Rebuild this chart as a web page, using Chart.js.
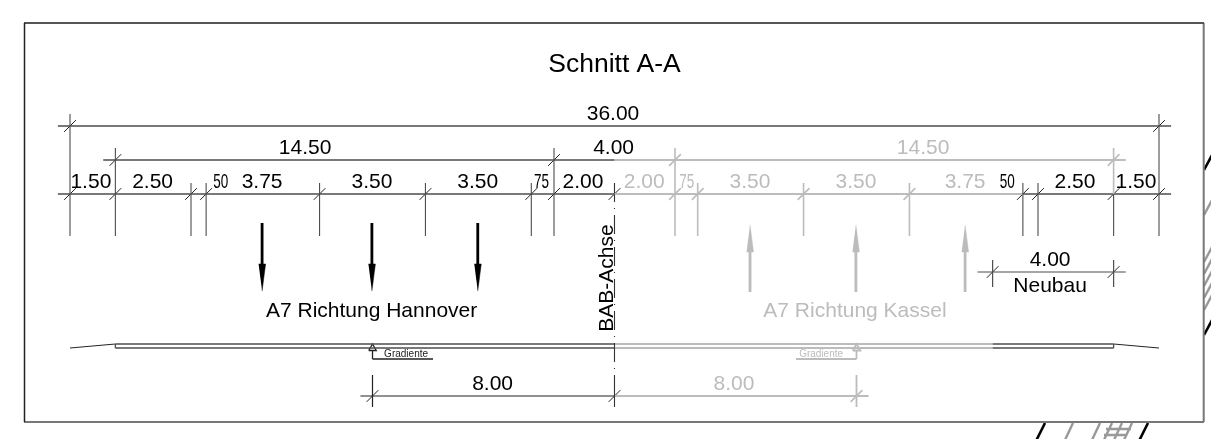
<!DOCTYPE html>
<html><head><meta charset="utf-8">
<style>html,body{margin:0;padding:0;background:#fff}canvas{display:block}</style>
<script src="https://cdn.jsdelivr.net/npm/chart.js@4/dist/chart.umd.min.js"></script>
</head><body><canvas id="c" width="1211" height="439"></canvas>
<script>
// stations in metres from the left edge of the 36.00 m section
const stations = [0,1.5,4,4.5,8.25,11.75,15.25,16,18,20,20.75,24.25,27.75,31.5,32,34.5,36];
const darkFine = [0,1.5,4,4.5,8.25,11.75,15.25,16,18,31.5,32,34.5,36];
const greyFine = [20,20.75,24.25,27.75];
const fineLabels = ["1.50","2.50","50","3.75","3.50","3.50","75","2.00","2.00","75","3.50","3.50","3.75","50","2.50","1.50"];
const fineLabelAt = [0.69,2.73,4.98,6.35,9.98,13.48,15.59,16.96,18.98,20.39,22.48,25.98,29.59,30.98,33.22,35.24];
const fineLabelGrey = [8,9,10,11,12];
const narrowLabels = ["50","75"];
const axisStation = 18;
const lanesHannover = [6.35,9.98,13.48];
const lanesKassel = [22.48,25.98,29.59];
const gradienteStations = [10,26];
const neubauStations = [30.5,34.5];

const W = 1211, H = 439, X0 = 70, PXM = 30.25;
const ink = '#4d4d4d', grey = '#bcbcbc';
const rowTotal = 126, rowMid = 160, rowFine = 194, rowBase = 236, rowTopFine = 183, rowTopMid = 148, rowTopTotal = 114;
const rowLow = 396, lowTop = 375, lowBot = 407, rowNeu = 272, neuTop = 260, neuBot = 287;
const roadTop = 344, roadBot = 348;
const over = 0.4;
const px = p => (p - X0) / PXM;

const P = (x,y) => ({x,y});
const GAP = {x:null,y:null};
const segs = list => list.flatMap(s => [P(s[0],s[1]),P(s[2],s[3]),GAP]);
const vert = (xs,a,b) => xs.map(x => [x,a,x,b]);
const line = (data,color,width,extra={}) => ({type:'scatter',showLine:true,data,borderColor:color,borderWidth:width,pointRadius:0,pointHoverRadius:0,...extra});
const ticks = (data,color,w=1) => ({type:'scatter',showLine:false,data,pointStyle:'line',rotation:-45,radius:8.3,pointBorderColor:color,borderColor:color,pointBorderWidth:w,borderWidth:w,pointHoverRadius:8.3});
const poly = (pts,fillC,strokeC,w) => ({type:'scatter',showLine:true,data:pts,fill:'shape',backgroundColor:fillC,borderColor:strokeC,borderWidth:w,pointRadius:0,tension:0});

const datasets = [];
// frame
datasets.push(line(segs([[px(24.5),23,px(24.5),422]]),'#222',1.5));
datasets.push(line(segs([[px(24),23,px(1204),23]]),'#555',2));
datasets.push(line(segs([[px(1203.7),23,px(1203.7),422],[px(24),422,px(1204),422]]),'#777',2));
// outside hatch
datasets.push(line(segs([[px(1204),170,px(1212),155],[px(1204),335,px(1212),320],[px(1045),423,px(1036.5),440],[px(1148),423,px(1139.5),440]]),'#000',2.6));
datasets.push(line(segs([[px(1204),215,px(1212),200],[px(1204),262,px(1212),247],[px(1204),274,px(1212),259],[px(1204),286,px(1212),271],[px(1204),298,px(1212),283],[px(1204),310,px(1212),295],
 [px(1073),423,px(1065),440],[px(1100),423,px(1092),440],[px(1112),423,px(1104),440],[px(1122),423,px(1114),440],[px(1132),423,px(1124),440],[px(1106),429,px(1131),429],[px(1104),435,px(1127),435]]),'#999',2.4));
// extension lines
datasets.push(line(segs([...vert([0,36],rowTopTotal,rowBase),...vert([1.5,16],rowTopMid,rowBase),...vert([4,4.5,8.25,11.75,15.25,31.5,32],rowTopFine,rowBase),[34.5,rowFine,34.5,rowBase]]),ink,1.1));
datasets.push(line(segs([...vert([20],rowTopMid,rowBase),...vert([20.75,24.25,27.75],rowTopFine,rowBase),[34.5,rowTopMid,34.5,rowFine]]),grey,1.6));
// dimension chains
datasets.push(line(segs([[stations[0]-over,rowFine,axisStation,rowFine],[31.5,rowFine,36+over,rowFine],[1.5-over,rowMid,axisStation,rowMid]]),ink,1.3));
datasets.push(line(segs([[axisStation,rowFine,31.5,rowFine],[axisStation,rowMid,34.5+over,rowMid]]),grey,1.8));
datasets.push(line(segs([[stations[0]-over,rowTotal,36+over,rowTotal]]),ink,1.4));
datasets.push(ticks([0,36].map(x=>P(x,rowTotal)),'#222'));
datasets.push(ticks([1.5,16].map(x=>P(x,rowMid)),'#222'));
datasets.push(ticks([20,34.5].map(x=>P(x,rowMid)),grey,1.6));
datasets.push(ticks(darkFine.map(x=>P(x,rowFine)),'#222'));
datasets.push(ticks(greyFine.map(x=>P(x,rowFine)),grey,1.6));
// axis
datasets.push(line([P(axisStation,rowTopFine),P(axisStation,lowTop)],'#333',1.1,{borderDash:[19,6,1,6]}));
datasets.push(line(segs([[axisStation,lowTop,axisStation,lowBot]]),'#333',1.1));
// lane arrows
lanesHannover.forEach(x=>{
  datasets.push(line(segs([[x,223,x,266]]),'#000',2.8));
  datasets.push(poly([P(x-0.115,264),P(x+0.115,264),P(x,291)],'#000','#000',0.5));
});
lanesKassel.forEach(x=>{
  datasets.push(line(segs([[x,250,x,292]]),grey,2.8));
  datasets.push(poly([P(x-0.115,252),P(x+0.115,252),P(x,225)],grey,grey,0.5));
});
// road surface
datasets.push(line(segs([[1.5,roadTop,axisStation,roadTop],[1.5,roadBot,axisStation,roadBot],[30.5,roadTop,34.5,roadTop],[30.5,roadBot,34.5,roadBot],[1.5,roadTop,1.5,roadBot],[34.5,roadTop,34.5,roadBot]]),ink,1.3));
datasets.push(line(segs([[0,roadBot,1.5,roadTop],[34.5,roadTop,36,roadBot]]),'#222',1));
datasets.push(line(segs([[axisStation,roadTop,30.5,roadTop],[axisStation,roadBot,30.5,roadBot]]),grey,1.8));
// Gradiente marks
const gr = [[gradienteStations[0],'#222',1.3,1],[gradienteStations[1],grey,1.8,-1]];
gr.forEach(([x,c,w,dir])=>{
  datasets.push(poly([P(x-0.125,350.5),P(x+0.125,350.5),P(x,344),P(x-0.125,350.5)],'#fff',c,w));
  datasets.push(line(segs([[x,350.5,x,359],[x,359,x+dir*2,359]]),c,w));
});
// low dimension
datasets.push(line(segs([[10-over,rowLow,axisStation,rowLow],[10,lowTop,10,lowBot]]),'#222',1.2));
datasets.push(line(segs([[axisStation,rowLow,26+over,rowLow],[26,lowTop,26,lowBot]]),grey,1.8));
datasets.push(ticks([10,18].map(x=>P(x,rowLow)),'#222'));
datasets.push(ticks([26].map(x=>P(x,rowLow)),grey,1.6));
// Neubau
datasets.push(line(segs([[neubauStations[0]-over-0.1,rowNeu,neubauStations[1]+over,rowNeu],...vert(neubauStations,neuTop,neuBot)]),ink,1.2));
datasets.push(ticks(neubauStations.map(x=>P(x,rowNeu)),'#222'));

// text
const texts = [
 {t:"Schnitt A-A",x:px(614.5),y:72,s:26.5,c:'#000'},
 {t:"36.00",x:17.95,y:120,s:21,c:'#000'},
 {t:"14.50",x:7.77,y:154,s:21,c:'#000'},
 {t:"4.00",x:17.97,y:154,s:21,c:'#000'},
 {t:"14.50",x:28.2,y:154,s:21,c:grey},
 {t:"8.00",x:13.97,y:390,s:21,c:'#000'},
 {t:"8.00",x:21.95,y:390,s:21,c:grey},
 {t:"4.00",x:32.4,y:266,s:21,c:'#000'},
 {t:"Neubau",x:32.4,y:291.5,s:21,c:'#000'},
 {t:"A7 Richtung Hannover",x:9.97,y:317,s:21,c:'#000'},
 {t:"A7 Richtung Kassel",x:25.95,y:317,s:21,c:grey},
 {t:"Gradiente",x:11.11,y:357,s:10,c:'#222'},
 {t:"Gradiente",x:24.83,y:357,s:10,c:grey},
 ...fineLabels.map((t,i)=>({t,x:fineLabelAt[i],y:188,s:21,c:fineLabelGrey.includes(i)?grey:'#000',narrow:narrowLabels.includes(t)}))
];
const textPlugin = {id:'drawingText',afterDatasetsDraw(ch){
  const c = ch.ctx, xs = ch.scales.x, ys = ch.scales.y;
  c.save(); c.textAlign='center'; c.textBaseline='alphabetic';
  texts.forEach(o=>{
    c.font = o.s+'px "Liberation Sans"'; c.fillStyle=o.c;
    const X = xs.getPixelForValue(o.x), Y = ys.getPixelForValue(o.y);
    if(o.narrow) c.fillText(o.t,X,Y,15); else c.fillText(o.t,X,Y);
  });
  c.save(); c.translate(xs.getPixelForValue(axisStation)-2,ys.getPixelForValue(278)); c.rotate(-Math.PI/2);
  c.font='21px "Liberation Sans"'; c.fillStyle='#000'; c.fillText("BAB-Achse",0,0); c.restore();
  c.restore();
}};

new Chart(document.getElementById('c'),{
  type:'scatter',
  data:{datasets},
  options:{responsive:false,animation:false,events:[],devicePixelRatio:1,
    layout:{padding:0,autoPadding:false},
    plugins:{legend:{display:false},tooltip:{enabled:false},title:{display:false}},
    scales:{
      x:{type:'linear',display:false,min:-X0/PXM,max:(W-X0)/PXM},
      y:{type:'linear',display:false,min:0,max:H,reverse:true}
    }},
  plugins:[textPlugin]
});
</script></body></html>
